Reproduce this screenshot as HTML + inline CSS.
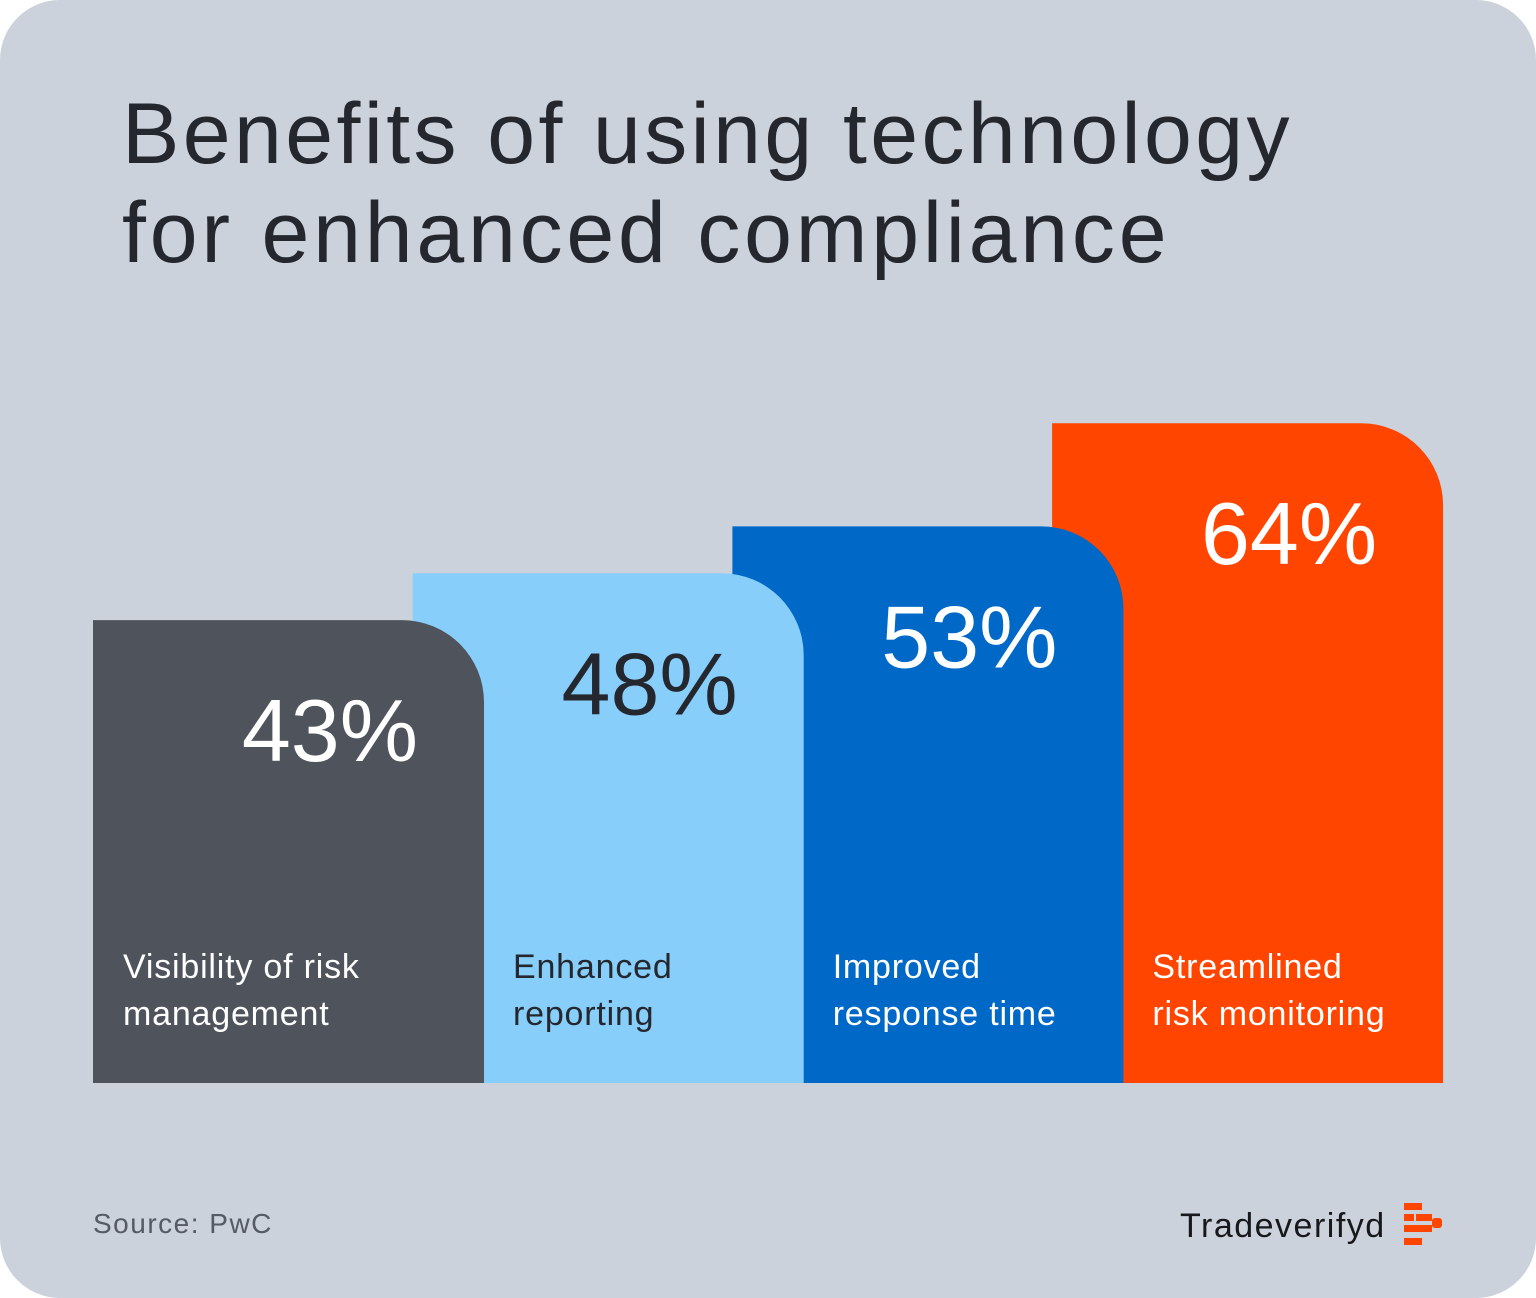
<!DOCTYPE html>
<html><head><meta charset="utf-8"><style>
html,body{margin:0;padding:0;background:#fff;width:1536px;height:1298px;overflow:hidden}
svg{display:block}
text{font-family:"Liberation Sans",sans-serif}
</style></head><body>
<svg id="chart" width="1536" height="1298" viewBox="0 0 1536 1298">
<rect x="0" y="0" width="1536" height="1298" rx="60" fill="#cbd2db"/>
<g>
<text x="122" y="163" font-size="86" fill="#25272e" letter-spacing="3.4">Benefits of using technology</text>
<text x="122" y="262" font-size="86" fill="#25272e" letter-spacing="3.8">for enhanced compliance</text>
</g>
<g id="bars"></g>
<g id="labels"></g>
<text x="93" y="1233" font-size="28" fill="#555a63" letter-spacing="1.5">Source: PwC</text>
<g>
<text x="1180" y="1237" font-size="34" fill="#17181c" letter-spacing="1.5">Tradeverifyd</text>
<g fill="#ff4500">
<rect x="1404" y="1203" width="18" height="7"/>
<rect x="1404" y="1214" width="10" height="7"/><rect x="1416" y="1214" width="16" height="7"/>
<rect x="1404" y="1225" width="28" height="7"/><rect x="1432" y="1218" width="10" height="10" rx="3"/>
<rect x="1404" y="1238" width="18" height="7"/>
</g>
</g>
</svg>
<script>
const categories = [["Visibility of risk","management"],["Enhanced","reporting"],["Improved","response time"],["Streamlined","risk monitoring"]];
const values = [43, 48, 53, 64];
const valueLabels = ["43%","48%","53%","64%"];
const colors = ["#4f535c","#87cefa","#0068c6","#ff4500"];
const textColors = ["#ffffff","#25272e","#ffffff","#ffffff"];
const labelColors = ["#ffffff","#25272e","#ffffff","#ffffff"];

const baseY = 1083;
function yScale(v){ return baseY - (59.7 + 9.376 * v); }
function xLeft(i){ return 93 + i * 319.7; }
const barW = 391, R = 82;
const NS = "http://www.w3.org/2000/svg";
const g = document.getElementById('bars');
const lg = document.getElementById('labels');
for (let i = values.length - 1; i >= 0; i--) {
  const x = xLeft(i), top = yScale(values[i]), r = Math.min(R, baseY - top);
  const grp = document.createElementNS(NS, 'g');
  
  
  const p = document.createElementNS(NS, 'path');
  p.setAttribute('d', `M${x},${baseY} L${x},${top} L${x+barW-r},${top} A${r},${r} 0 0 1 ${x+barW},${top+r} L${x+barW},${baseY} Z`);
  p.setAttribute('fill', colors[i]);
  
  
  grp.appendChild(p);
  const t = document.createElementNS(NS, 'text');
  t.setAttribute('x', x + barW - 66);
  t.setAttribute('y', top + 141);
  t.setAttribute('text-anchor', 'end');
  t.setAttribute('font-size', '88');
  t.setAttribute('fill', textColors[i]);
  t.textContent = valueLabels[i];
  
  
  grp.appendChild(t);
  g.appendChild(grp);
  const lx = i === 0 ? x + 30 : xLeft(i - 1) + barW + 29;
  categories[i].forEach((line, k) => {
    const c = document.createElementNS(NS, 'text');
    c.setAttribute('x', lx);
    c.setAttribute('y', 978 + k * 47);
    c.setAttribute('font-size', '34');
    c.setAttribute('letter-spacing', '0.8');
    c.setAttribute('fill', labelColors[i]);
    c.textContent = line;
    
    
    lg.appendChild(c);
  });
}
</script>
</body></html>
